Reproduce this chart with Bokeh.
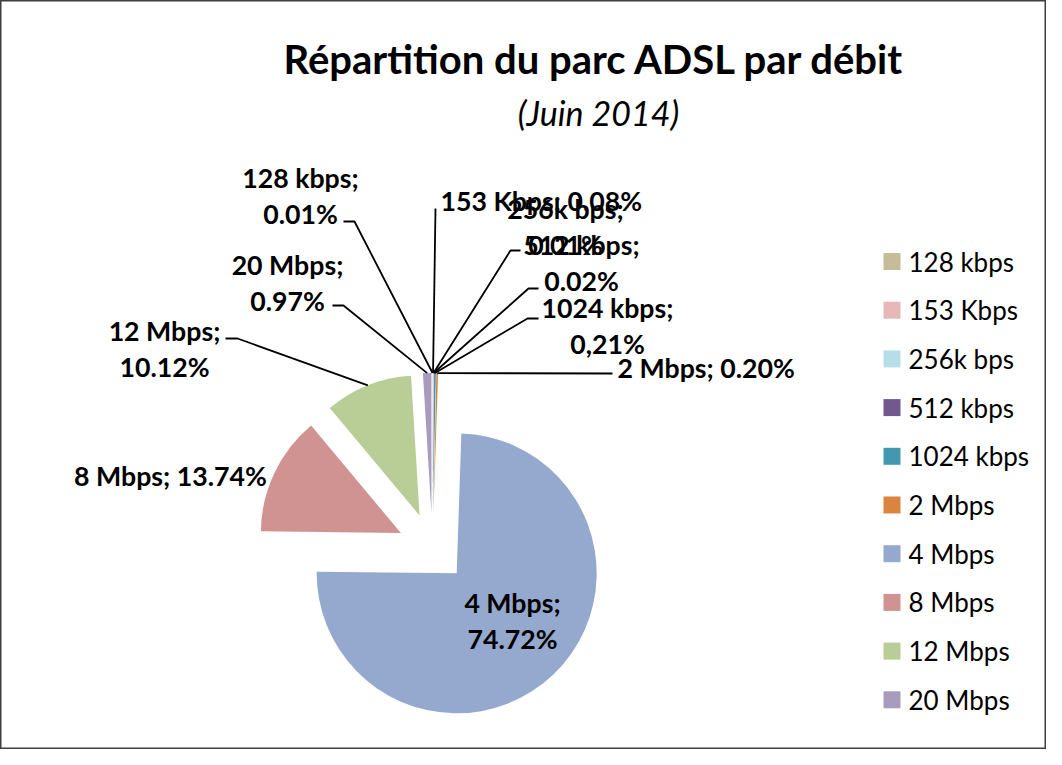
import math
from bokeh.plotting import figure
from bokeh.models import Range1d, ColumnDataSource
from bokeh.core.properties import value
from bokeh.embed import file_html
from bokeh.resources import INLINE

# ---------------- data ----------------
categories = ["128 kbps", "153 Kbps", "256k bps", "512 kbps", "1024 kbps",
              "2 Mbps", "4 Mbps", "8 Mbps", "12 Mbps", "20 Mbps"]
shares = [0.01, 0.08, 0.01, 0.02, 0.21, 0.20, 74.72, 13.74, 10.12, 0.97]
share_labels = ["0.01%", "0.08%", "0.01%", "0.02%", "0,21%", "0.20%",
                "74.72%", "13.74%", "10.12%", "0.97%"]
title_text = "Répartition du parc ADSL par débit"
subtitle_text = "(Juin 2014)"

# ---------------- styles / layout ----------------
colors = ["#C4BD97", "#E6B9B8", "#B7DEE8", "#71588F", "#4198AF",
          "#DB843D", "#95A9CF", "#D09392", "#B9CD96", "#A99BBD"]
FONT = "Lato"
W, H = 1046, 749
PAGE_H = 765          # reference picture height (pixel coords used for layout)
CX, CY = 432, 547.5   # pie centre (pixel coords)
R = 140
EXPLODE = 0.25 * R
LABEL_SIZE = "26.7px"
LINE_GAP = 36

def Y(py):
    return PAGE_H - py

# label placement: (x, y of first line, n lines, align, leader elbow points)
label_layout = {
    "128 kbps":  (300, 177, 2, "center", [(343, 221), (354, 221)]),
    "153 Kbps":  (440, 200, 1, "left",   [(435, 208)]),
    "256k bps":  (565, 208, 2, "center", [(520, 250), (510, 250)]),
    "512 kbps":  (581, 244, 2, "center", [(538, 288), (528, 288)]),
    "1024 kbps": (607, 307, 2, "center", [(538, 318), (527, 318)]),
    "2 Mbps":    (617, 367, 1, "left",   [(612, 373)]),
    "4 Mbps":    (512, 602, 2, "center", None),
    "8 Mbps":    (170, 475, 1, "center", None),
    "12 Mbps":   (164, 330, 2, "center", [(225, 338), (237, 338)]),
    "20 Mbps":   (287, 264, 2, "center", [(332, 305), (343, 305)]),
}

p = figure(width=W, height=H, output_backend="svg", toolbar_location=None,
           x_range=Range1d(0, W), y_range=Range1d(PAGE_H - H, PAGE_H),
           x_axis_type=None, y_axis_type=None, min_border=0,
           background_fill_color="white", border_fill_color="white")
p.grid.visible = False
p.outline_line_color = "#3F3F3F"
p.outline_line_width = 2

# ---------------- pie ----------------
total = sum(shares)
wx, wy, sa, ea, arc_pts = [], [], [], [], []
cum = 0.0
for s in shares:
    t0 = cum / total * 2 * math.pi
    t1 = (cum + s) / total * 2 * math.pi
    tm = (t0 + t1) / 2
    cx = CX + EXPLODE * math.sin(tm)
    cy = CY - EXPLODE * math.cos(tm)
    wx.append(cx)
    wy.append(Y(cy))
    sa.append(math.pi / 2 - t0)
    ea.append(math.pi / 2 - t1)
    arc_pts.append((cx + R * math.sin(tm), cy - R * math.cos(tm)))
    cum += s

pie_src = ColumnDataSource(dict(x=wx, y=wy, start=sa, end=ea, color=colors))
p.wedge(x="x", y="y", radius=R, start_angle="start", end_angle="end",
        direction="clock", fill_color="color", line_color=None, source=pie_src)

# ---------------- leader lines ----------------
lx, ly = [], []
for cat, pt in zip(categories, arc_pts):
    lead = label_layout[cat][4]
    if lead:
        pts = list(lead) + [pt]
        lx.append([q[0] for q in pts])
        ly.append([Y(q[1]) for q in pts])
p.multi_line(xs=lx, ys=ly, line_color="black", line_width=1.8)

# ---------------- data labels ----------------
rows = {"center": dict(x=[], y=[], t=[]), "left": dict(x=[], y=[], t=[])}
for cat, lab in zip(categories, share_labels):
    x, y, n, align, _ = label_layout[cat]
    if n == 2:
        texts = [cat + ";", lab]
    else:
        texts = [cat + "; " + lab]
    for i, t in enumerate(texts):
        rows[align]["x"].append(x)
        rows[align]["y"].append(Y(y + i * LINE_GAP))
        rows[align]["t"].append(t)
for align, d in rows.items():
    p.text(x="x", y="y", text="t", source=ColumnDataSource(d),
           text_align=align, text_baseline="middle",
           text_font=value(FONT), text_font_style="bold",
           text_font_size=LABEL_SIZE, text_color="black")

# ---------------- legend ----------------
leg_y = [Y(261 + i * 48.7) for i in range(len(categories))]
p.scatter(x=[891.5] * len(categories), y=leg_y, marker="square", size=17,
          fill_color=colors, line_color=None)
p.text(x=[908] * len(categories), y=leg_y, text=categories,
       text_align="left", text_baseline="middle",
       text_font=value(FONT), text_font_size="26px", text_color="black")

# ---------------- titles ----------------
p.text(x=[594], y=[Y(58)], text=[title_text], text_align="center",
       text_baseline="middle", text_font=value(FONT), text_font_style="bold",
       text_font_size="40px", text_color="black")
p.text(x=[598], y=[Y(112)], text=[subtitle_text], text_align="center",
       text_baseline="middle", text_font=value(FONT), text_font_style="italic",
       text_font_size="34px", text_color="black")

open("out.html", "w").write(file_html(p, INLINE))
